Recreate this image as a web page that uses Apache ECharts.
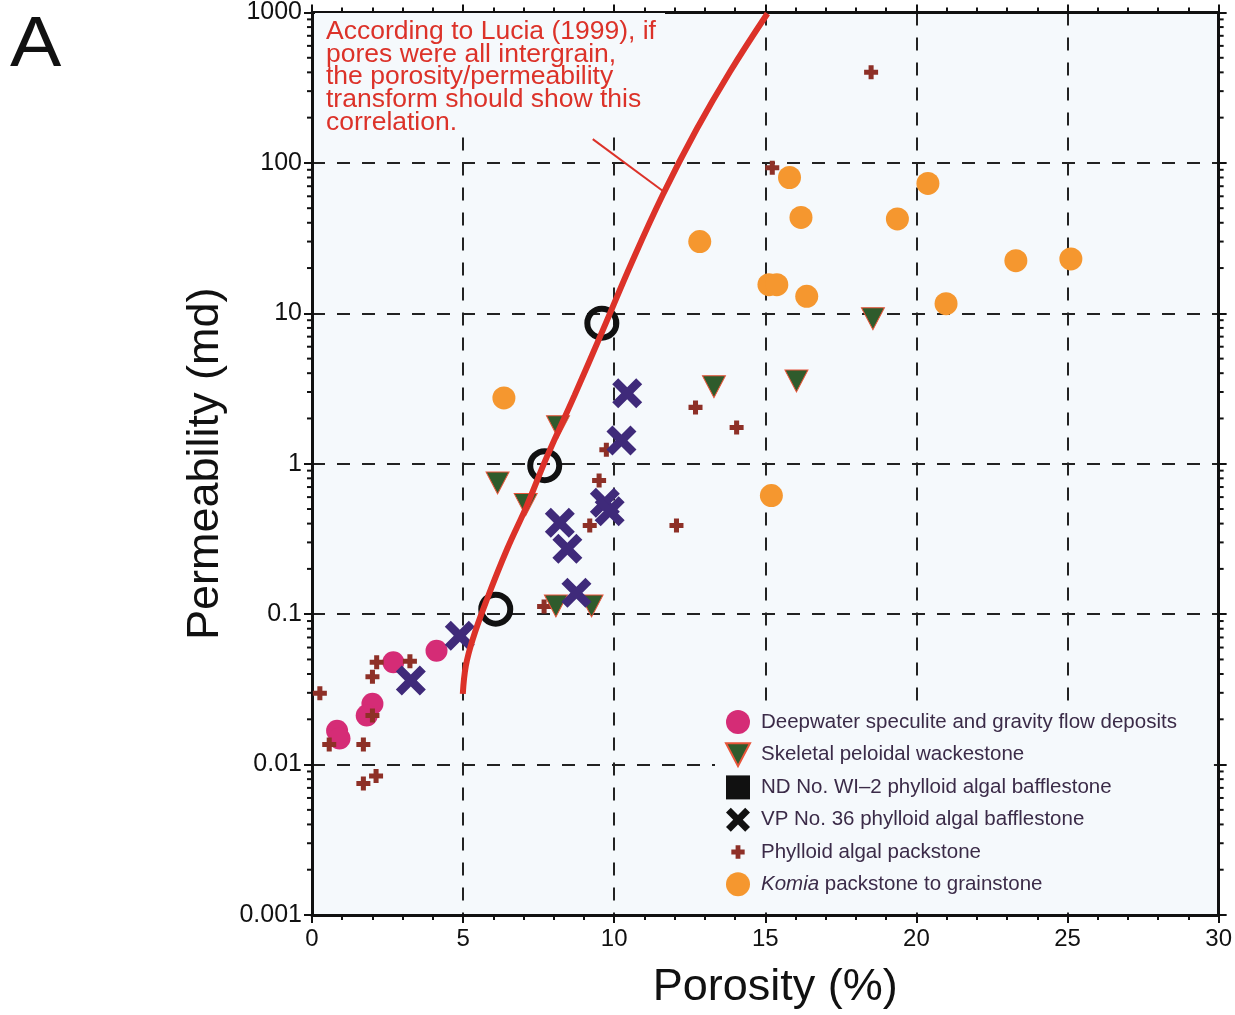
<!DOCTYPE html>
<html>
<head>
<meta charset="utf-8">
<script src="https://cdn.jsdelivr.net/npm/echarts@6/dist/echarts.min.js"></script>
<style>
html,body{margin:0;padding:0;background:#fff;}
#chart{width:1235px;height:1015px;}
</style>
</head>
<body>
<div id="chart"></div>
<script>
// porosity (%), permeability (md)
var deepwater = [[0.83,0.0168],[0.91,0.0149],[2.0,0.0254],[1.81,0.0212],[2.69,0.0479],[4.12,0.0571]];
var wackestone = [[8.14,1.76],[6.14,0.745],[7.07,0.535],[8.07,0.1135],[9.25,0.1135],[13.3,3.25],[16.03,3.55],[18.56,9.2]];
var ndWi2 = [[9.59,8.6],[7.70,0.97],[6.08,0.108]];
var vp36 = [[10.43,2.94],[10.24,1.43],[9.69,0.55],[9.85,0.483],[8.2,0.405],[8.45,0.272],[8.75,0.139],[4.89,0.0718],[3.27,0.0362]];
var packstone = [[0.26,0.0298],[0.57,0.0136],[1.70,0.0136],[1.70,0.00748],[2.12,0.00841],[2.0,0.0212],[2.0,0.0384],
    [2.14,0.0479],[3.24,0.0486],[9.74,1.24],[9.50,0.775],[9.19,0.389],[7.68,0.1125],[12.06,0.389],[12.69,2.37],
    [14.05,1.74],[18.50,401],[15.23,93]];
var komia = [[6.35,2.74],[12.83,30.0],[15.80,80],[16.18,43.4],[19.37,42.4],[20.38,73],[15.12,15.5],[15.38,15.5],
    [16.37,12.97],[20.98,11.6],[23.29,22.4],[25.11,23.0],[15.20,0.614]];
var luciaCurve = [[4.99,0.0295],[5.09,0.0453],[5.32,0.0683],[5.79,0.1257],[6.45,0.269],[7.11,0.527],[7.77,1.11],
    [8.69,2.86],[9.62,7.71],[10.58,21.8],[11.60,61],[12.73,168],[13.82,401],[15.07,985]];
var pointer = [[9.29,144],[11.60,65.3]];

var yTicks = [0.001, 0.01, 0.1, 1, 10, 100, 1000];
var yTickLabels = ['0.001', '0.01', '0.1', '1', '10', '100', '1000'];
var minorFactors = [2, 3, 4, 5, 6, 7, 8, 9];

var names = ['Deepwater speculite and gravity flow deposits', 'Skeletal peloidal wackestone',
    'ND No. WI\u20132 phylloid algal bafflestone', 'VP No. 36 phylloid algal bafflestone',
    'Phylloid algal packstone', 'Komia packstone to grainstone'];

var noteText = 'According to Lucia (1999), if\npores were all intergrain,\nthe porosity/permeability\ntransform should show this\ncorrelation.';

var minorTicks = [];
for (var i = 0; i < yTicks.length - 1; i++) {
    minorFactors.forEach(function (f) { minorTicks.push([0, f * yTicks[i]]); });
}

var FONT = 'Liberation Sans';
var BG = '#f5f9fc';
var xPath = 'path://M0,2L2,0L5,3L8,0L10,2L7,5L10,8L8,10L5,7L2,10L0,8L3,5Z';
var plusPath = 'path://M3.2,0H6.8V3.2H10V6.8H6.8V10H3.2V6.8H0V3.2H3.2Z';
var plusLegend = 'path://M-4,-4M14,14M3.2,0H6.8V3.2H10V6.8H6.8V10H3.2V6.8H0V3.2H3.2Z';
var triPath = 'path://M0,0L10,0L5,9.5Z';

var myChart = echarts.init(document.getElementById('chart'));

var axisLine = {onZero: false, lineStyle: {color: '#111', width: 3}};
var axisTick = {length: 8, lineStyle: {color: '#111', width: 2}};
var minorTick = {show: true, splitNumber: 5, length: 5, lineStyle: {color: '#111', width: 2}};
var gridLine = {show: true, lineStyle: {color: '#222', width: 2, type: [13, 12]}};

var option = {
    animation: false,
    textStyle: {fontFamily: FONT},
    grid: {left: 312, right: 15, top: 10, bottom: 99, show: true, backgroundColor: BG, borderWidth: 0},
    xAxis: [{
        type: 'value', min: 0, max: 30, interval: 5, position: 'bottom',
        name: 'Porosity (%)', nameLocation: 'middle', nameGap: 50,
        nameTextStyle: {fontSize: 45, color: '#111', fontFamily: FONT, padding: [0, 0, 0, 20]},
        axisLine: axisLine, axisTick: axisTick, minorTick: minorTick,
        axisLabel: {fontSize: 24, color: '#111', margin: 12, fontFamily: FONT},
        splitLine: gridLine
    }, {
        type: 'value', min: 0, max: 30, interval: 5, position: 'top',
        axisLine: axisLine, axisTick: axisTick, minorTick: minorTick,
        axisLabel: {show: false},
        splitLine: {show: false}
    }],
    yAxis: [{
        type: 'log', logBase: 10, min: 0.001, max: 1000, position: 'left',
        name: 'Permeability (md)', nameLocation: 'middle', nameGap: 75,
        nameTextStyle: {fontSize: 45, color: '#111', fontFamily: FONT},
        axisLine: axisLine, axisTick: axisTick,
        axisLabel: {
            fontSize: 25, color: '#111', margin: 10, fontFamily: FONT,
            formatter: function (v) { return yTickLabels[Math.round(Math.log10(v)) + 3]; }
        },
        splitLine: gridLine
    }, {
        type: 'log', logBase: 10, min: 0.001, max: 1000, position: 'right',
        axisLine: axisLine, axisTick: axisTick,
        axisLabel: {show: false},
        splitLine: {show: false}
    }],
    legend: {
        orient: 'vertical', left: 715, top: 702,
        padding: [8, 37, 13, 10], backgroundColor: BG,
        itemWidth: 24, itemHeight: 24, itemGap: 8.3,
        textStyle: {fontSize: 20.5, color: '#3b2b48', fontFamily: FONT, padding: [0, 0, 0, 6],
            rich: {i: {fontStyle: 'italic', fontSize: 20.5, color: '#3b2b48', fontFamily: FONT}}},
        formatter: function (name) {
            return name === names[5] ? '{i|Komia} packstone to grainstone' : name;
        },
        data: [
            {name: names[0], icon: 'circle'},
            {name: names[1]},
            {name: names[2], icon: 'rect', itemStyle: {color: '#111', borderWidth: 0}},
            {name: names[3], itemStyle: {color: '#111'}},
            {name: names[4], icon: plusLegend},
            {name: names[5], icon: 'circle'}
        ]
    },
    graphic: [
        {type: 'text', left: 10, top: 12, scaleX: 1.1, style: {text: 'A', fontSize: 70, fill: '#111', fontFamily: FONT}},
        {type: 'rect', z: 50, shape: {x: 315, y: 13, width: 350, height: 119}, style: {fill: BG}},
        {type: 'text', z: 51, left: 326, top: 18,
            style: {text: noteText, fontSize: 26.5, lineHeight: 22.7, fill: '#dc3229', fontFamily: FONT}}
    ],
    series: [
        {
            name: names[0], type: 'scatter', data: deepwater, symbol: 'circle', symbolSize: 22,
            itemStyle: {color: '#d52c76', opacity: 1}
        },
        {
            name: names[4], type: 'scatter', data: packstone, symbol: plusPath, symbolSize: 14,
            itemStyle: {color: '#8e3027', opacity: 1}
        },
        {
            name: names[1], type: 'scatter', data: wackestone, symbol: triPath, symbolSize: [23, 22],
            itemStyle: {color: '#2f5b2c', borderColor: '#e8553a', borderWidth: 1, opacity: 1}
        },
        {
            name: names[3], type: 'scatter', data: vp36, symbol: xPath, symbolSize: 30,
            itemStyle: {color: '#3f2a7a', opacity: 1}
        },
        {
            name: names[2], type: 'scatter', data: ndWi2, symbol: 'circle', symbolSize: 29,
            itemStyle: {color: 'rgba(0,0,0,0)', borderColor: '#111', borderWidth: 6, opacity: 1}
        },
        {
            name: names[5], type: 'scatter', data: komia, symbol: 'circle', symbolSize: 23,
            itemStyle: {color: '#f5972f', opacity: 1}
        },
        {
            name: 'Lucia', type: 'line', data: luciaCurve, smooth: 0.4, showSymbol: false, symbol: 'none',
            lineStyle: {color: '#dc3229', width: 6}, z: 10
        },
        {
            name: 'pointer', type: 'line', data: pointer, showSymbol: false, symbol: 'none',
            lineStyle: {color: '#dc3229', width: 2}, z: 10
        },
        {
            name: 'minorTicks', type: 'custom', data: minorTicks, clip: false, silent: true, z: 20,
            renderItem: function (params, api) {
                var v = api.value(1);
                var l = api.coord([0, v]);
                var r = api.coord([30, v]);
                var st = {stroke: '#111', lineWidth: 2};
                return {
                    type: 'group',
                    children: [
                        {type: 'line', shape: {x1: l[0] - 5, y1: l[1], x2: l[0], y2: l[1]}, style: st},
                        {type: 'line', shape: {x1: r[0], y1: r[1], x2: r[0] + 5, y2: r[1]}, style: st}
                    ]
                };
            }
        }
    ]
};

myChart.setOption(option);
</script>
</body>
</html>
